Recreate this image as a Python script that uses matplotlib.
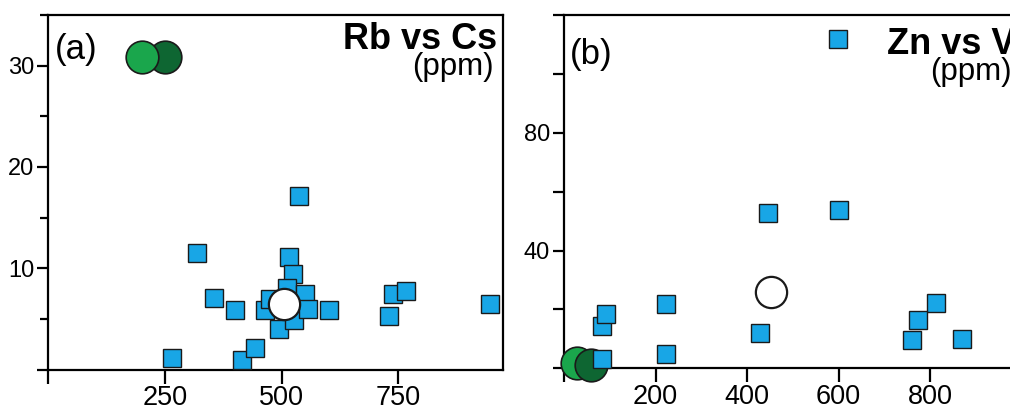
import matplotlib
matplotlib.use("Agg")
import matplotlib.pyplot as plt

plt.rcParams["font.family"] = ["Liberation Sans", "DejaVu Sans"]

# ---- data -------------------------------------------------------------
# (a) Rb vs Cs (ppm)
rb_samples = [538, 318, 356, 400, 264, 415, 442, 515, 524, 494, 465,
              474, 512, 527, 551, 556, 602, 729, 739, 767, 947]
cs_samples = [17.1, 11.55, 7.06, 5.84, 1.16, 0.96, 2.11, 11.06, 9.4, 4.03,
              5.9, 7.0, 8.0, 4.85, 7.5, 6.0, 5.84, 5.25, 7.5, 7.75, 6.44]
rb_mean, cs_mean = 506, 6.44
rb_ref_light, cs_ref_light = 200, 30.9
rb_ref_dark, cs_ref_dark = 251, 30.9

# (b) Zn vs V (ppm)
zn_samples = [445, 600, 224, 224, 428, 82, 92, 82, 813, 774, 760, 869]
v_samples = [52.8, 53.7, 21.8, 4.8, 11.9, 14.5, 18.5, 3.0, 22.3, 16.4, 9.5, 10.1]
zn_mean, v_mean = 452, 26.0
zn_ref_light, v_ref_light = 29, 1.7
zn_ref_dark, v_ref_dark = 58, 1.1

# axis ticks
a_xticks = [0, 250, 500, 750]
a_xlabels = ["", "250", "500", "750"]
a_yticks = [0, 10, 20, 30]
a_ylabels = ["", "10", "20", "30"]
a_yminor = [5, 15, 25, 35]

b_xticks = [0, 200, 400, 600, 800, 1000]
b_xlabels = ["", "200", "400", "600", "800", ""]
b_yticks = [0, 20, 40, 60, 80, 100, 120]
b_ylabels = ["", "", "40", "", "80", "", ""]

# ---- styling ------------------------------------------------------------
BLUE = "#18a6e6"
LIGHT_GREEN = "#1aa64c"
DARK_GREEN = "#0e6632"
EDGE = "#1a1a1a"
LW = 1.6

sq = dict(marker="s", ms=13.5, mfc=BLUE, mec=EDGE, mew=1.0, ls="none", clip_on=False)
ring = dict(marker="o", ms=22.5, mfc="white", mec=EDGE, mew=1.6, ls="none", clip_on=False)
green = dict(marker="o", ms=23.5, mec=EDGE, mew=1.2, ls="none", clip_on=False)

fig = plt.figure(figsize=(10.1, 4.08), dpi=100)
fig.patch.set_facecolor("white")

ax_a = fig.add_axes([48.3 / 1010, 1 - 369.5 / 408, 455 / 1010, 354.5 / 408])
ax_b = fig.add_axes([564 / 1010, 1 - 368.3 / 408, 457.5 / 1010, 353.3 / 408])


def style_axes(ax):
    for s in ax.spines.values():
        s.set_linewidth(LW)
        s.set_color("black")
    ax.tick_params(axis="both", which="both", direction="out", width=LW, color="black")
    ax.tick_params(axis="y", which="major", length=8, pad=2, labelsize=17)
    ax.tick_params(axis="y", which="minor", length=6)
    ax.tick_params(axis="x", which="major", length=10, pad=1.5, labelsize=19.5)


def panel_text(ax, tag, title, dy=0.0):
    ax.annotate(tag, xy=(0, 1), xycoords="axes fraction", xytext=(4.5, -32 + dy),
                textcoords="offset points", ha="left", va="baseline", fontsize=25)
    ax.annotate(title, xy=(1, 1), xycoords="axes fraction", xytext=(-4.5, -24.5 + dy),
                textcoords="offset points", ha="right", va="baseline",
                fontsize=26, fontweight="bold")
    ax.annotate("(ppm)", xy=(1, 1), xycoords="axes fraction", xytext=(-7, -43.5 + dy),
                textcoords="offset points", ha="right", va="baseline", fontsize=22.5)


# ---- panel (a) ------------------------------------------------------------
style_axes(ax_a)
ax_a.set_xlim(0, 975)
ax_a.set_ylim(0, 35)
ax_a.set_xticks(a_xticks, a_xlabels)
ax_a.set_yticks(a_yticks, a_ylabels)
ax_a.set_yticks(a_yminor, minor=True)

ax_a.plot(rb_samples, cs_samples, zorder=3, **sq)
ax_a.plot([rb_mean], [cs_mean], zorder=4, **ring)
ax_a.plot([rb_ref_dark], [cs_ref_dark], mfc=DARK_GREEN, zorder=4, **green)
ax_a.plot([rb_ref_light], [cs_ref_light], mfc=LIGHT_GREEN, zorder=5, **green)

panel_text(ax_a, "(a)", "Rb vs Cs")

# ---- panel (b) ------------------------------------------------------------
style_axes(ax_b)
ax_b.set_xlim(0, 1000)
ax_b.set_ylim(0, 120)
ax_b.set_xticks(b_xticks, b_xlabels)
ax_b.set_yticks(b_yticks, b_ylabels)

ax_b.plot([zn_mean], [v_mean], zorder=3, **ring)
ax_b.plot([zn_ref_light], [v_ref_light], mfc=LIGHT_GREEN, zorder=3, **green)
ax_b.plot([zn_ref_dark], [v_ref_dark], mfc=DARK_GREEN, zorder=4, **green)
ax_b.plot(zn_samples, v_samples, zorder=5, **sq)

# key marker beside the panel title
ax_b.plot([0.5996], [0.931], transform=ax_b.transAxes, zorder=5, **sq)
panel_text(ax_b, "(b)", "Zn vs V", dy=-3.5)

fig.savefig("out.png", dpi=100, facecolor="white")
